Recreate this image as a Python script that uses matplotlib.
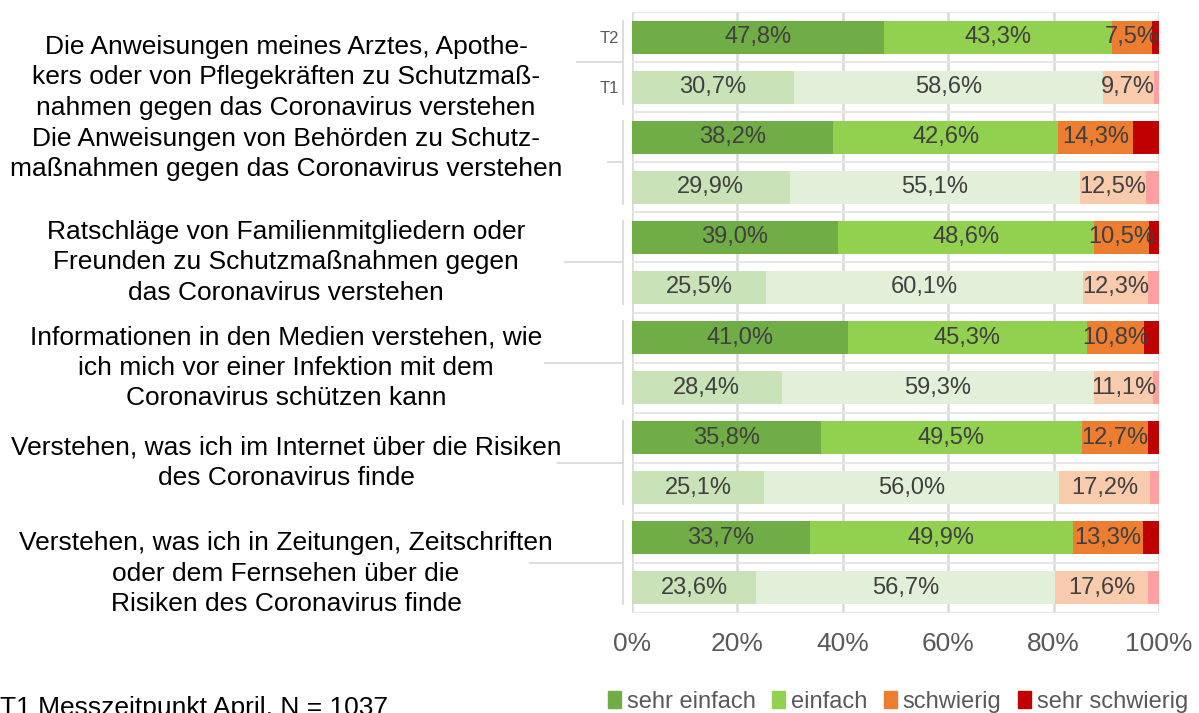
import matplotlib
matplotlib.use('Agg')
from matplotlib import pyplot as plt
from matplotlib import transforms
import numpy as np

plt.rcParams['font.family'] = ['Liberation Sans', 'DejaVu Sans']

# Daten: je Aussage zwei Balken (T2 oben, T1 unten)
categories = [
    "Die Anweisungen meines Arztes, Apothe-\nkers oder von Pflegekräften zu Schutzmaß-\nnahmen gegen das Coronavirus verstehen",
    "Die Anweisungen von Behörden zu Schutz-\nmaßnahmen gegen das Coronavirus verstehen",
    "Ratschläge von Familienmitgliedern oder\nFreunden zu Schutzmaßnahmen gegen\ndas Coronavirus verstehen",
    "Informationen in den Medien verstehen, wie\nich mich vor einer Infektion mit dem\nCoronavirus schützen kann",
    "Verstehen, was ich im Internet über die Risiken\ndes Coronavirus finde",
    "Verstehen, was ich in Zeitungen, Zeitschriften\noder dem Fernsehen über die\nRisiken des Coronavirus finde",
]
time_labels = ["T2", "T1"]
series_names = ["sehr einfach", "einfach", "schwierig", "sehr schwierig"]

sehr_einfach_t2 = [47.8, 38.2, 39.0, 41.0, 35.8, 33.7]
einfach_t2 = [43.3, 42.6, 48.6, 45.3, 49.5, 49.9]
schwierig_t2 = [7.5, 14.3, 10.5, 10.8, 12.7, 13.3]
sehr_schwierig_t2 = [1.4, 4.9, 1.9, 2.9, 2.0, 3.1]

sehr_einfach_t1 = [30.7, 29.9, 25.5, 28.4, 25.1, 23.6]
einfach_t1 = [58.6, 55.1, 60.1, 59.3, 56.0, 56.7]
schwierig_t1 = [9.7, 12.5, 12.3, 11.1, 17.2, 17.6]
sehr_schwierig_t1 = [1.0, 2.5, 2.1, 1.2, 1.7, 2.1]

footnote = "T1 Messzeitpunkt April, N = 1037"

# Farben
colors_t2 = ['#70AD47', '#92D050', '#ED7D31', '#C00000']
colors_t1 = ['#C9E2B8', '#E2F0D9', '#F8CBAD', '#FF9F9F']
grid_c = '#D9D9D9'

fig = plt.figure(figsize=(11.99, 7.13), dpi=100)
ax = fig.add_axes([632 / 1199, 100 / 713, 527 / 1199, 601 / 713])

t2 = [sehr_einfach_t2, einfach_t2, schwierig_t2, sehr_schwierig_t2]
t1 = [sehr_einfach_t1, einfach_t1, schwierig_t1, sehr_schwierig_t1]
n = len(categories)
y_t2 = np.arange(n) * 2
y_t1 = y_t2 + 1
h = 0.66

for ys, data, cols in [(y_t2, t2, colors_t2), (y_t1, t1, colors_t1)]:
    left = np.zeros(n)
    for j, vals in enumerate(data):
        vals = np.array(vals)
        ax.barh(ys, vals, left=left, height=h, color=cols[j], zorder=2)
        if j < 3:
            for yy, l, v in zip(ys, left, vals):
                ax.text(l + v / 2, yy, f"{v:.1f}%".replace('.', ','),
                        ha='center', va='center', fontsize=17, color='#404040', zorder=3)
        left = left + vals

ax.set_xlim(0, 100)
ax.set_ylim(2 * n - 0.5, -0.5)
ax.set_xticks(np.arange(0, 101, 20))
ax.set_xticklabels([f"{v}%" for v in range(0, 101, 20)], fontsize=19, color='#595959')
ax.set_yticks([0, 1])
ax.set_yticklabels(time_labels, fontsize=12, color='#595959')
ax.tick_params(axis='both', length=0)
ax.tick_params(axis='x', pad=14)
ax.tick_params(axis='y', pad=9)
for s in ax.spines.values():
    s.set_visible(False)

# Gitternetz
for x in range(0, 101, 20):
    ax.axvline(x, color=grid_c, lw=1.8, zorder=1)
for yb in np.arange(-0.5, 2 * n, 1.0):
    ax.axhline(yb, color='#E6E6E6', lw=1.5, zorder=1)

# Kategorienachse: Beschriftungen und Trennlinien
trans = transforms.blended_transform_factory(fig.transFigure, ax.transData)
text_shift = [0.3, -0.16, 0.0, 0.1, 0.0, 0.22]
sep_start = [577, 608, 565, 545, 558, 530]
for i, cat in enumerate(categories):
    mid = 2 * i + 0.5
    fig.text(286 / 1199, mid + text_shift[i], cat, transform=trans, ha='center', va='center',
             fontsize=19, color='black', linespacing=1.34)
    fig.add_artist(plt.Line2D([sep_start[i] / 1199, 623 / 1199], [mid, mid],
                              transform=trans, color=grid_c, lw=1.3))
    fig.add_artist(plt.Line2D([623 / 1199, 623 / 1199], [2 * i - h / 2, 2 * i + 1 + h / 2],
                              transform=trans, color=grid_c, lw=1.3))

# Legende
handles = [plt.Rectangle((0, 0), 1, 1, color=c) for c in colors_t2]
fig.legend(handles, series_names, loc='center', bbox_to_anchor=(898 / 1199, 11 / 713),
           ncol=4, frameon=False, fontsize=17, handlelength=0.55, handleheight=0.7,
           handletextpad=0.25, columnspacing=0.7, labelcolor='#595959', borderpad=0)

fig.text(0, 5 / 713, footnote, ha='left', va='center', fontsize=19, color='black')

plt.savefig('out.png', dpi=100)
